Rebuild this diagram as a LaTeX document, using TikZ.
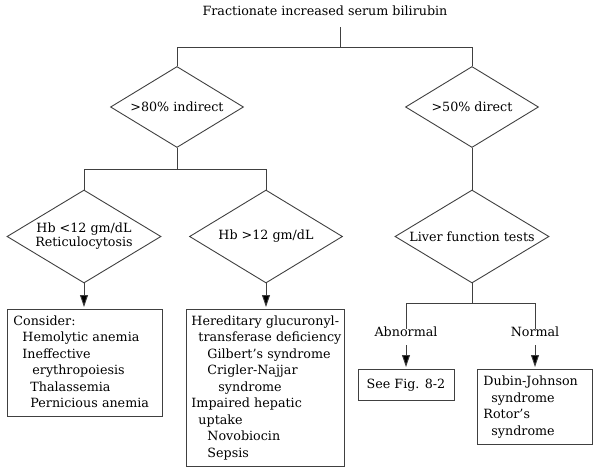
\documentclass[tikz,border=0pt]{standalone}
\usepackage{fontspec}
\setmainfont{DejaVu Serif}
\usetikzlibrary{shapes.geometric,arrows.meta}
\newcommand{\boxlines}[1]{\begin{tabular}{@{}l@{}}#1\end{tabular}}
\begin{document}
\begin{tikzpicture}[x=1pt,y=-1pt,
  every node/.style={font=\fontsize{12.7}{16.5}\selectfont, text=black},
  ln/.style={draw=black!75, line width=0.9pt},
  dia/.style={diamond, draw=black!75, line width=0.9pt, inner sep=0pt},
  box/.style={rectangle, draw=black!75, line width=0.9pt, align=left, anchor=north west, inner ysep=0pt},
  arr/.style={ln, -{Triangle[length=12pt,width=8pt,fill=black]}, shorten >=2pt},
  lbl/.style={inner sep=0pt, text height=9pt, text depth=3pt},
]
\useasboundingbox (0,0) rectangle (594,471);

% title
\node[lbl] (t) at (325,13) {Fractionate increased serum bilirubin};
\coordinate (t0) at (340,27);
\coordinate (j0) at (340,47);

% level 1 diamonds
\node[dia, minimum width=133pt, minimum height=81pt, label={center:>80\% indirect}] (d1) at (177,107) {};
\node[dia, minimum width=133pt, minimum height=81pt, label={center:>50\% direct}] (d2) at (472,107) {};

% level 2 diamonds
\coordinate (j1) at (177,169);
\node[dia, minimum width=154pt, minimum height=93pt, label={[align=center, font=\fontsize{12.7}{14}\selectfont]center:Hb <12 gm/dL\\Reticulocytosis}] (d3) at (84,236.5) {};
\node[dia, minimum width=153pt, minimum height=93pt, label={center:Hb >12 gm/dL}] (d4) at (266,236.5) {};
\node[dia, minimum width=154pt, minimum height=93pt, label={center:Liver function tests}] (lft) at (472,236.5) {};

% boxes
\node[box, minimum width=155pt, minimum height=107pt, inner xsep=6pt, text width=143pt] (b1) at (7,309) {\boxlines{%
Consider:\\
\hspace*{9pt}Hemolytic anemia\\
\hspace*{9pt}Ineffective\\
\hspace*{19pt}erythropoiesis\\
\hspace*{17pt}Thalassemia\\
\hspace*{17pt}Pernicious anemia}};

\node[box, minimum width=158pt, minimum height=157pt, inner xsep=5pt, text width=148pt] (b2) at (186,309) {\boxlines{%
Hereditary glucuronyl-\\
\hspace*{7pt}transferase deficiency\\
\hspace*{16pt}Gilbert's syndrome\\
\hspace*{16pt}Crigler-Najjar\\
\hspace*{27pt}syndrome\\
Impaired hepatic\\
\hspace*{7pt}uptake\\
\hspace*{16pt}Novobiocin\\
\hspace*{16pt}Sepsis}};

\coordinate (j2) at (472,303);
\node[lbl] (ab) at (406,333) {Abnormal};
\node[lbl] (no) at (535,333) {Normal};

\node[box, anchor=north, minimum width=96pt, minimum height=31pt, inner xsep=0pt, align=center] (b3) at (406,369) {See Fig. 8-2};
\node[box, minimum width=115pt, minimum height=75pt, inner xsep=6pt, text width=103pt] (b4) at (477,369) {\boxlines{%
Dubin-Johnson\\
\hspace*{8pt}syndrome\\
Rotor's\\
\hspace*{8pt}syndrome}};

% connectors
\draw[ln] (t0) -- (j0);
\draw[ln] (d1.north) -- (d1.north |- j0) -- (d2.north |- j0) -- (d2.north);
\draw[ln] (d1.south) -- (j1);
\draw[ln] (d3.north) -- (d3.north |- j1) -- (d4.north |- j1) -- (d4.north);
\draw[ln] (d2.south) -- (lft.north);
\draw[arr] (d3.south) -- (d3.south |- b1.north);
\draw[arr] (d4.south) -- (d4.south |- b2.north);
\draw[ln] (lft.south) -- (j2);
\draw[ln] ([yshift=-2pt]ab.north) -- (ab.north |- j2) -- (no.north |- j2) -- ([yshift=-2pt]no.north);
\draw[arr] ([yshift=-6pt]ab.south) -- (b3.north);
\draw[arr] ([yshift=-6pt]no.south) -- (no.south |- b4.north);
\end{tikzpicture}
\end{document}
